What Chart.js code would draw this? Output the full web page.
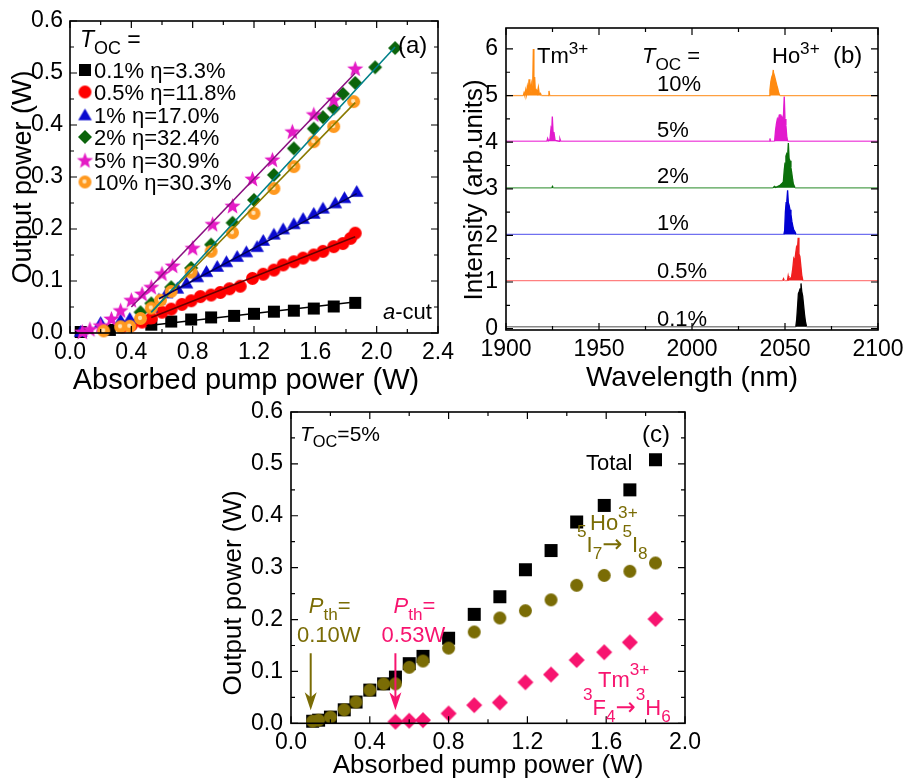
<!DOCTYPE html>
<html><head><meta charset="utf-8">
<script src="https://cdn.jsdelivr.net/npm/chart.js@4.4.1/dist/chart.umd.min.js"></script>
<style>
html,body{margin:0;padding:0;background:#fff;width:907px;height:782px;overflow:hidden;}
canvas{position:absolute;}
</style></head><body>
<canvas id="ca" width="458" height="400" style="left:0;top:0"></canvas>
<canvas id="cb" width="457" height="400" style="left:450px;top:0"></canvas>
<canvas id="cc" width="510" height="390" style="left:200px;top:392px"></canvas>
<script>
// ---------------- Panel (a) data ----------------
const tocLabels = ['0.1%', '0.5%', '1%', '2%', '5%', '10%'];
const etaLabels = ['3.3%', '11.8%', '17.0%', '32.4%', '30.9%', '30.3%'];

const pumpA01 = [0.07, 0.26, 0.53, 0.66, 0.79, 0.92, 1.07, 1.20, 1.33, 1.46, 1.59, 1.72, 1.86];
const outA01  = [0.002, 0.006, 0.016, 0.022, 0.026, 0.030, 0.033, 0.037, 0.041, 0.043, 0.047, 0.051, 0.058];

const pumpA05 = [0.34, 0.40, 0.47, 0.53, 0.60, 0.66, 0.73, 0.79, 0.85, 0.92, 0.98, 1.04, 1.11, 1.19, 1.26, 1.33, 1.39, 1.46, 1.52, 1.59, 1.65, 1.72, 1.78, 1.83, 1.86];
const outA05  = [0.012, 0.015, 0.021, 0.028, 0.040, 0.046, 0.055, 0.062, 0.070, 0.073, 0.078, 0.085, 0.090, 0.105, 0.113, 0.121, 0.131, 0.137, 0.144, 0.150, 0.157, 0.166, 0.172, 0.182, 0.192];

const pumpA1 = [0.07, 0.20, 0.33, 0.39, 0.46, 0.53, 0.58, 0.63, 0.70, 0.76, 0.83, 0.89, 0.96, 1.02, 1.09, 1.15, 1.22, 1.26, 1.33, 1.39, 1.46, 1.52, 1.59, 1.65, 1.73, 1.79, 1.87];
const outA1  = [0.003, 0.020, 0.025, 0.028, 0.035, 0.050, 0.065, 0.077, 0.086, 0.096, 0.108, 0.118, 0.128, 0.137, 0.147, 0.156, 0.166, 0.178, 0.190, 0.200, 0.210, 0.220, 0.230, 0.240, 0.250, 0.260, 0.272];

const pumpA2 = [0.46, 0.53, 0.66, 0.79, 0.92, 1.06, 1.20, 1.33, 1.46, 1.59, 1.65, 1.72, 1.78, 1.86, 1.99, 2.12];
const outA2  = [0.040, 0.057, 0.088, 0.125, 0.170, 0.212, 0.256, 0.304, 0.355, 0.393, 0.415, 0.432, 0.460, 0.481, 0.511, 0.548];

const pumpA5 = [0.08, 0.13, 0.20, 0.27, 0.33, 0.40, 0.47, 0.53, 0.60, 0.67, 0.80, 0.93, 1.06, 1.19, 1.32, 1.45, 1.59, 1.72, 1.86];
const outA5  = [0.003, 0.008, 0.015, 0.028, 0.044, 0.064, 0.076, 0.089, 0.115, 0.130, 0.164, 0.210, 0.245, 0.297, 0.334, 0.388, 0.421, 0.449, 0.509];

const pumpA10 = [0.22, 0.33, 0.39, 0.46, 0.53, 0.59, 0.66, 0.79, 0.92, 1.06, 1.20, 1.33, 1.46, 1.59, 1.72, 1.85];
const outA10  = [0.004, 0.012, 0.013, 0.028, 0.048, 0.063, 0.080, 0.117, 0.157, 0.193, 0.230, 0.278, 0.320, 0.368, 0.397, 0.445];

// linear fits (end points)
const fitX01 = [0.50, 1.87], fitY01 = [0.014, 0.060];
const fitX05 = [0.53, 1.86], fitY05 = [0.030, 0.185];
const fitX1  = [0.58, 1.87], fitY1  = [0.066, 0.268];
const fitX2  = [0.53, 2.12], fitY2  = [0.040, 0.550];
const fitX5  = [0.40, 1.86], fitY5  = [0.050, 0.500];
const fitX10 = [0.53, 1.86], fitY10 = [0.040, 0.443];

// ---------------- Panel (b) data ----------------
const tocB = ['10%', '5%', '2%', '1%', '0.5%', '0.1%'];
const baseB = [5.0, 4.02, 3.02, 2.02, 1.03, 0.04];
const wl10 = [1900, 1909.3, 1909.7, 1910.1, 1910.6, 1911.0, 1911.5, 1912.0, 1912.4, 1912.8, 1913.2, 1913.6, 1914.0, 1914.4, 1914.7, 1915.0, 1915.4, 1915.8, 1916.3, 1916.8, 1917.4, 1917.9, 1918.5, 1919.0, 1922.6, 1923.1, 1923.5, 2041.4, 2041.9, 2042.4, 2042.9, 2043.4, 2043.7, 2044.1, 2044.6, 2045.1, 2045.6, 2046.1, 2046.6, 2047.2, 2100];
const int10 = [5.0, 5.0, 5.06, 5.0, 5.12, 5.02, 5.2, 5.1, 5.35, 5.05, 5.15, 5.25, 5.05, 5.3, 6.0, 5.05, 5.4, 5.08, 5.12, 5.05, 5.18, 5.03, 5.05, 5.0, 5.0, 5.1, 5.0, 5.0, 5.12, 5.3, 5.4, 5.45, 5.55, 5.35, 5.38, 5.3, 5.22, 5.15, 5.06, 5.0, 5.0];
const wl5 = [1900, 1922.0, 1922.4, 1922.8, 1923.6, 1924.2, 1924.6, 1924.9, 1925.3, 1925.8, 1926.4, 1928.6, 1929.0, 1929.4, 2041.6, 2041.9, 2042.2, 2044.4, 2044.9, 2045.4, 2045.9, 2046.4, 2046.9, 2047.3, 2047.8, 2048.2, 2048.7, 2049.2, 2049.6, 2050.0, 2050.5, 2051.0, 2051.5, 2100];
const int5 = [4.02, 4.02, 4.08, 4.03, 4.05, 4.3, 4.25, 4.55, 4.22, 4.2, 4.04, 4.02, 4.07, 4.02, 4.02, 4.08, 4.02, 4.02, 4.25, 4.4, 4.5, 4.45, 4.58, 4.6, 4.5, 4.55, 4.45, 4.6, 4.98, 4.5, 4.35, 4.1, 4.02, 4.02];
const wl2 = [1900, 1924.6, 1925.0, 1925.4, 2043.5, 2044.3, 2045.0, 2046.5, 2047.5, 2048.5, 2049.1, 2049.6, 2050.0, 2050.5, 2050.9, 2051.4, 2051.8, 2052.2, 2052.7, 2053.2, 2053.6, 2054.1, 2054.5, 2055.4, 2100];
const int2 = [3.02, 3.02, 3.05, 3.02, 3.02, 3.05, 3.03, 3.06, 3.08, 3.12, 3.15, 3.4, 3.55, 3.7, 3.75, 3.7, 3.98, 3.65, 3.6, 3.45, 3.35, 3.2, 3.1, 3.02, 3.02];
const wl1 = [1900, 2049.4, 2049.8, 2050.2, 2050.6, 2051.0, 2051.4, 2051.8, 2052.2, 2052.7, 2053.2, 2053.7, 2054.2, 2054.7, 2055.3, 2056.0, 2100];
const int1 = [2.02, 2.02, 2.1, 2.5, 2.7, 2.75, 2.97, 2.7, 2.65, 2.55, 2.45, 2.3, 2.2, 2.12, 2.08, 2.02, 2.02];
const wl05 = [1900, 2048.8, 2049.2, 2049.6, 2051.3, 2051.7, 2052.1, 2053.5, 2054.2, 2054.7, 2055.2, 2055.7, 2056.2, 2056.7, 2057.1, 2057.5, 2058.0, 2058.5, 2059.0, 2059.6, 2100];
const int05 = [1.03, 1.03, 1.07, 1.03, 1.03, 1.13, 1.05, 1.1, 1.3, 1.5, 1.45, 1.6, 1.75, 1.7, 1.95, 1.6, 1.55, 1.35, 1.15, 1.03, 1.03];
const wl01 = [1900, 2055.8, 2056.3, 2056.8, 2057.2, 2057.7, 2058.1, 2058.6, 2059.0, 2059.5, 2060.0, 2060.5, 2061.0, 2061.6, 2100];
const int01 = [0.04, 0.04, 0.2, 0.5, 0.75, 0.8, 0.85, 0.97, 0.8, 0.7, 0.5, 0.3, 0.15, 0.04, 0.04];

// ---------------- Panel (c) data ----------------
const pumpTot = [0.11, 0.14, 0.20, 0.27, 0.33, 0.40, 0.47, 0.53, 0.60, 0.67, 0.80, 0.93, 1.06, 1.19, 1.32, 1.45, 1.59, 1.72, 1.85];
const outTot  = [0.004, 0.006, 0.012, 0.026, 0.041, 0.064, 0.076, 0.089, 0.115, 0.129, 0.164, 0.210, 0.244, 0.296, 0.333, 0.388, 0.420, 0.450, 0.508];
const pumpHo = [0.11, 0.14, 0.20, 0.27, 0.33, 0.40, 0.47, 0.53, 0.60, 0.67, 0.80, 0.93, 1.06, 1.19, 1.32, 1.45, 1.59, 1.72, 1.85];
const outHo  = [0.004, 0.006, 0.012, 0.026, 0.041, 0.064, 0.076, 0.076, 0.108, 0.120, 0.145, 0.176, 0.203, 0.217, 0.238, 0.266, 0.285, 0.293, 0.309];
const pumpTm = [0.53, 0.60, 0.67, 0.80, 0.93, 1.06, 1.19, 1.32, 1.45, 1.59, 1.72, 1.85];
const outTm  = [0.003, 0.005, 0.006, 0.019, 0.035, 0.040, 0.079, 0.094, 0.122, 0.137, 0.156, 0.201];
const thresholdX = [0.10, 0.53];
const thresholdText = ['0.10W', '0.53W'];

// ---------------- helpers ----------------
const FAM = '"Liberation Sans", Arial, Helvetica, sans-serif';
Chart.defaults.font.family = FAM;
Chart.defaults.color = '#000';
const zip = (xs, ys) => xs.map((x, i) => ({x: x, y: ys[i]}));
const OLIVE = '#7A6C05', PINK = '#F7146F';

function marker(shape, s, color) {
  const c = document.createElement('canvas');
  const W = s + 4; c.width = W; c.height = W;
  const g = c.getContext('2d'); const m = W / 2, r = s / 2;
  g.fillStyle = color; g.beginPath();
  if (shape === 'square') g.rect(m - r, m - r, s, s);
  else if (shape === 'circle' || shape === 'ball') g.arc(m, m, r, 0, 2 * Math.PI);
  else if (shape === 'triangle') { g.moveTo(m, m - r * 1.0); g.lineTo(m + r * 1.05, m + r * 0.8); g.lineTo(m - r * 1.05, m + r * 0.8); g.closePath(); }
  else if (shape === 'diamond') { g.moveTo(m, m - r); g.lineTo(m + r, m); g.lineTo(m, m + r); g.lineTo(m - r, m); g.closePath(); }
  else if (shape === 'star') {
    for (let i = 0; i < 10; i++) {
      const rr = i % 2 === 0 ? r : r * 0.42; const a = -Math.PI / 2 + i * Math.PI / 5;
      const px = m + rr * Math.cos(a), py = m + 1 + rr * Math.sin(a);
      if (i === 0) g.moveTo(px, py); else g.lineTo(px, py);
    }
    g.closePath();
  }
  g.fill();
  if (shape === 'ball') { g.beginPath(); g.fillStyle = '#FFE3B5'; g.arc(m - 0.5, m - 0.5, r * 0.33, 0, 2 * Math.PI); g.fill(); }
  return c;
}

function rich(ctx, parts, x, y, size, color, align) {
  const segs = parts.map(p => {
    const t = p[0], k = p[1] || '';
    const small = (k === 'sub' || k === 'sup');
    const fs = small ? size * 0.78 : size;
    let font = (k === 'i' ? 'italic ' : '') + fs + 'px ' + FAM;
    if (k === 'arrow') font = (size * 1.1) + 'px "DejaVu Sans", sans-serif';
    ctx.font = font;
    let dy = 0;
    if (k === 'sub') dy = size * 0.3;
    if (k === 'sup') dy = -size * (p[2] || 0.45);
    return {t: t, font: font, w: ctx.measureText(t).width, dy: dy};
  });
  const total = segs.reduce((s, g) => s + g.w, 0);
  let cx = align === 'center' ? x - total / 2 : (align === 'right' ? x - total : x);
  ctx.save(); ctx.fillStyle = color; ctx.textBaseline = 'alphabetic'; ctx.textAlign = 'left';
  for (const g of segs) { ctx.font = g.font; ctx.fillText(g.t, cx, y + g.dy); cx += g.w; }
  ctx.restore();
}

const frameTicks = {
  id: 'frameTicks',
  afterDatasetsDraw(chart, args, o) {
    const {ctx, chartArea: a, scales: {x, y}} = chart;
    ctx.save();
    ctx.strokeStyle = '#000';
    ctx.lineWidth = 1.2;
    const run = (sc, minor, major, horiz) => {
      const start = Math.ceil(sc.min / minor - 1e-9);
      const end = Math.floor(sc.max / minor + 1e-9);
      for (let i = start; i <= end; i++) {
        const v = i * minor;
        const isMaj = Math.abs(v / major - Math.round(v / major)) < 1e-6;
        const len = isMaj ? 7 : 4;
        const p = sc.getPixelForValue(v);
        ctx.beginPath();
        if (horiz) { ctx.moveTo(p, a.bottom); ctx.lineTo(p, a.bottom - len); ctx.moveTo(p, a.top); ctx.lineTo(p, a.top + len); }
        else { ctx.moveTo(a.left, p); ctx.lineTo(a.left + len, p); ctx.moveTo(a.right, p); ctx.lineTo(a.right - len, p); }
        ctx.stroke();
      }
    };
    run(x, o.xMinor, o.xMajor, true);
    run(y, o.yMinor, o.yMajor, false);
    ctx.lineWidth = 1.6;
    ctx.strokeRect(a.left, a.top, a.right - a.left, a.bottom - a.top);
    ctx.restore();
  }
};

function axis(min, max, step, fmt, title, tsize, tpad, tickPad, fixed, isX) {
  return {
    type: 'linear', min: min, max: max,
    grid: {display: false, drawTicks: false},
    border: {display: false},
    ticks: {stepSize: step, includeBounds: false, autoSkip: false, maxRotation: 0, padding: tickPad,
      font: {size: 23}, color: '#000', callback: fmt},
    title: {display: true, text: title, font: {size: tsize}, color: '#000', padding: tpad},
    afterFit(s) {
      if (isX) s.height = fixed; else s.width = fixed;
      s.paddingLeft = 0; s.paddingRight = 0; s.paddingTop = 0; s.paddingBottom = 0;
    }
  };
}
const f1 = v => v.toFixed(1);
const f0 = v => v.toFixed(0);
const base = {responsive: false, animation: false, devicePixelRatio: 1, events: []};

// ---------------- Chart (a) ----------------
const mkA = [marker('square', 12, '#000'), marker('circle', 13, '#FF0000'), marker('triangle', 13, '#0A0ACF'),
             marker('diamond', 14, '#0B640B'), marker('star', 17, '#E41BC5'), marker('ball', 13, '#FF991F')];
const seriesA = [[pumpA01, outA01], [pumpA05, outA05], [pumpA1, outA1], [pumpA2, outA2], [pumpA5, outA5], [pumpA10, outA10]];
const fitsA = [[fitX01, fitY01, '#000000'], [fitX05, fitY05, '#6B0000'], [fitX1, fitY1, '#00005A'],
               [fitX2, fitY2, '#00808A'], [fitX5, fitY5, '#8A1080'], [fitX10, fitY10, '#8A7A00']];
const dsA = [];
seriesA.forEach((s, i) => dsA.push({label: tocLabels[i], data: zip(s[0], s[1]), pointStyle: mkA[i], pointRadius: 6, clip: false, order: 10 - i}));
fitsA.forEach((f, i) => dsA.push({label: 'fit ' + tocLabels[i], data: zip(f[0], f[1]), showLine: true, pointRadius: 0, borderColor: f[2], borderWidth: 1.6, fill: false, order: 0}));

const legendDy = [49, 71, 94, 116, 139, 161];
const notesA = {id: 'notesA', afterDraw(chart) {
  const {ctx, chartArea: a} = chart; const L = a.left, T = a.top;
  rich(ctx, [['T', 'i'], ['OC', 'sub'], [' =', '']], L + 10, T + 26, 23, '#000');
  tocLabels.forEach((t, i) => {
    const cy = T + legendDy[i]; const m = mkA[i];
    ctx.drawImage(m, L + 15 - m.width / 2, cy - m.height / 2);
    rich(ctx, [[t + ' \u03B7=' + etaLabels[i], '']], L + 24, cy + 8, 22, '#000');
  });
  rich(ctx, [['(a)', '']], L + 328, T + 32, 24, '#000');
  rich(ctx, [['a', 'i'], ['-cut', '']], L + 313, T + 298, 22, '#000');
}};

new Chart(document.getElementById('ca'), {
  type: 'scatter',
  data: {datasets: dsA},
  options: Object.assign({}, base, {
    layout: {padding: {left: 0, top: 21, right: 20, bottom: 0}},
    plugins: {legend: {display: false}, tooltip: {enabled: false},
      frameTicks: {xMinor: 0.2, xMajor: 0.4, yMinor: 0.05, yMajor: 0.1}},
    scales: {
      x: axis(0, 2.4, 0.4, f1, 'Absorbed pump power (W)  ', 29, {top: 0, bottom: 2}, 6, 67, true),
      y: axis(0, 0.6, 0.1, f1, 'Output power (W)', 27, {top: 7, bottom: 0}, 7, 70, false)
    }
  }),
  plugins: [frameTicks, notesA]
});

// ---------------- Chart (b) ----------------
const specB = [[wl10, int10, '#FF8A10', '#FFA040'], [wl5, int5, '#E21ACD', '#F060E0'], [wl2, int2, '#0B700B', '#50A050'],
               [wl1, int1, '#0000D2', '#7070F0'], [wl05, int05, '#F02020', '#FF8080'], [wl01, int01, '#000000', '#888888']];
const dsB = specB.map((s, i) => {
  const b = baseB[i];
  return {label: tocB[i], data: zip(s[0], s[1]), pointRadius: 0, borderWidth: 1.3, borderColor: s[2],
    backgroundColor: s[2], fill: {value: b}, tension: 0,
    segment: {borderColor: c => (c.p0.parsed.y === b && c.p1.parsed.y === b) ? s[3] : s[2]}};
});
const tocBdy = [63, 109, 155, 202, 250, 298];
const notesB = {id: 'notesB', afterDraw(chart) {
  const {ctx, chartArea: a} = chart; const L = a.left, T = a.top;
  rich(ctx, [['Tm', ''], ['3+', 'sup', 0.4]], L + 31, T + 35, 22, '#000');
  rich(ctx, [['T', 'i'], ['OC', 'sub'], [' =', '']], L + 136, T + 35, 22, '#000');
  tocB.forEach((t, i) => rich(ctx, [[t, '']], L + 151, T + tocBdy[i], 22, '#000'));
  rich(ctx, [['Ho', ''], ['3+', 'sup', 0.4]], L + 266, T + 35, 22, '#000');
  rich(ctx, [['(b)', '']], L + 327, T + 35, 24, '#000');
}};
new Chart(document.getElementById('cb'), {
  type: 'line',
  data: {datasets: dsB},
  options: Object.assign({}, base, {
    layout: {padding: {left: 0, top: 28, right: 29, bottom: 0}},
    plugins: {legend: {display: false}, tooltip: {enabled: false},
      frameTicks: {xMinor: 25, xMajor: 50, yMinor: 0.5, yMajor: 1}},
    scales: {
      x: axis(1900, 2100, 50, f0, 'Wavelength (nm)', 28, {top: 0, bottom: 5}, 6, 70, true),
      y: axis(-0.03, 6.45, 1, f0, 'Intensity (arb.units)   ', 26, {top: 9, bottom: 0}, 8, 56, false)
    }
  }),
  plugins: [frameTicks, notesB]
});

// ---------------- Chart (c) ----------------
const mkC = [marker('square', 13, '#000'), marker('circle', 13, OLIVE), marker('diamond', 16, PINK)];
const dsC = [
  {label: 'Total', data: zip(pumpTot, outTot), pointStyle: mkC[0], pointRadius: 6, clip: false, order: 3},
  {label: 'Ho', data: zip(pumpHo, outHo), pointStyle: mkC[1], pointRadius: 6, clip: false, order: 2},
  {label: 'Tm', data: zip(pumpTm, outTm), pointStyle: mkC[2], pointRadius: 6, clip: false, order: 1}
];
const notesC = {id: 'notesC', afterDraw(chart) {
  const {ctx, chartArea: a, scales: {x, y}} = chart; const L = a.left, T = a.top;
  rich(ctx, [['T', 'i'], ['OC', 'sub'], ['=5%', '']], L + 9, T + 29, 21, '#000');
  rich(ctx, [['(c)', '']], L + 351, T + 30, 24, '#000');
  rich(ctx, [['Total', '']], L + 295, T + 58, 22, '#000');
  rich(ctx, [['Ho', ''], ['3+', 'sup', 0.55]], L + 299, T + 118, 22, OLIVE);
  rich(ctx, [['5', 'sup', 0.7], ['I', ''], ['7', 'sub'], ['\u2192', 'arrow'], ['5', 'sup', 0.7], ['I', ''], ['8', 'sub']], L + 286, T + 140, 22, OLIVE);
  rich(ctx, [['Tm', ''], ['3+', 'sup', 0.55]], L + 307, T + 275, 22, PINK);
  rich(ctx, [['3', 'sup', 0.7], ['F', ''], ['4', 'sub'], ['\u2192', 'arrow'], ['3', 'sup', 0.7], ['H', ''], ['6', 'sub']], L + 292, T + 303, 22, PINK);
  const cols = [OLIVE, PINK];
  thresholdX.forEach((tx, i) => {
    const px = x.getPixelForValue(tx);
    const y1 = y.getPixelForValue(0.135), y2 = y.getPixelForValue(0.025);
    ctx.save(); ctx.strokeStyle = cols[i]; ctx.fillStyle = cols[i]; ctx.lineWidth = 2;
    ctx.beginPath(); ctx.moveTo(px, y1); ctx.lineTo(px, y2 - 10); ctx.stroke();
    ctx.beginPath(); ctx.moveTo(px, y2); ctx.lineTo(px - 6, y2 - 18); ctx.lineTo(px, y2 - 13); ctx.lineTo(px + 6, y2 - 18); ctx.closePath(); ctx.fill();
    ctx.restore();
    rich(ctx, [['P', 'i'], ['th', 'sub'], ['=', '']], px + 19, T + 201, 22, cols[i], 'center');
    rich(ctx, [[thresholdText[i], '']], px + 18, T + 230, 22, cols[i], 'center');
  });
}};
new Chart(document.getElementById('cc'), {
  type: 'scatter',
  data: {datasets: dsC},
  options: Object.assign({}, base, {
    layout: {padding: {left: 0, top: 20, right: 25, bottom: 0}},
    plugins: {legend: {display: false}, tooltip: {enabled: false},
      frameTicks: {xMinor: 0.2, xMajor: 0.4, yMinor: 0.05, yMajor: 0.1}},
    scales: {
      x: axis(0, 2.0, 0.4, f1, 'Absorbed pump power (W)', 26, {top: 0, bottom: 1}, 6, 58.7, true),
      y: axis(0, 0.6, 0.1, f1, 'Output power (W)       ', 26, {top: 18, bottom: 0}, 8, 91, false)
    }
  }),
  plugins: [frameTicks, notesC]
});
</script>
</body></html>
